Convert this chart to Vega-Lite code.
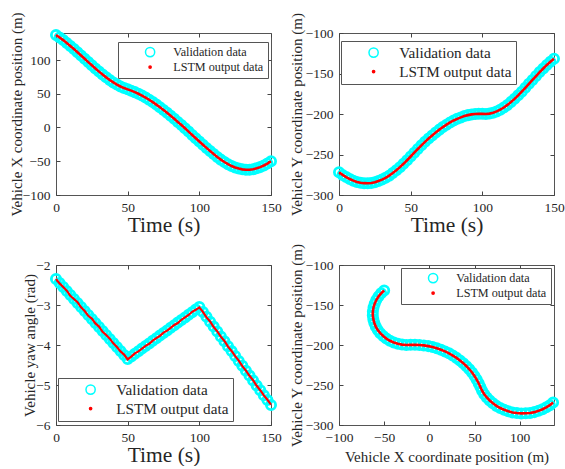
{
  "$schema": "https://vega.github.io/schema/vega-lite/v6.json",
  "padding": {"left": 8, "top": 11, "right": 0, "bottom": 0},
  "bounds": "flush",
  "columns": 2,
  "spacing": {"row": 70, "column": 68},
  "background": "white",
  "config": {
    "font": "Liberation Serif",
    "view": {"stroke": "#555555", "strokeWidth": 1},
    "axis": {
      "grid": false,
      "domain": false,
      "labelFont": "Liberation Serif",
      "titleFont": "Liberation Serif",
      "labelFontSize": 13.5,
      "labelColor": "#262626",
      "titleColor": "#262626",
      "titleFontWeight": "normal",
      "tickColor": "#444444",
      "tickSize": 4,
      "offset": -4,
      "labelPadding": 5,
      "labelOverlap": false,
      "labelFlush": false
    },
    "axisY": {"labelPadding": 6},
    "legend": {
      "orient": "none",
      "direction": "vertical",
      "strokeColor": "#555555",
      "fillColor": "white",
      "labelFont": "Liberation Serif",
      "labelColor": "#262626",
      "symbolType": "circle",
      "symbolStrokeWidth": 1.5,
      "labelLimit": 0,
      "cornerRadius": 0,
      "title": null
    }
  },
  "datasets": {
    "traj": [
      {"t": 0, "x": 137.0, "y": -272.0, "yaw": -2.35, "yawp": -2.35},
      {"t": 2.5, "x": 133.4, "y": -275.2, "yaw": -2.45, "yawp": -2.46},
      {"t": 5, "x": 129.5, "y": -277.9, "yaw": -2.55, "yawp": -2.55},
      {"t": 7.5, "x": 125.3, "y": -280.3, "yaw": -2.65, "yawp": -2.64},
      {"t": 10, "x": 120.9, "y": -282.3, "yaw": -2.75, "yawp": -2.77},
      {"t": 12.5, "x": 116.3, "y": -283.9, "yaw": -2.85, "yawp": -2.85},
      {"t": 15, "x": 111.5, "y": -284.9, "yaw": -2.95, "yawp": -2.93},
      {"t": 17.5, "x": 106.7, "y": -285.4, "yaw": -3.05, "yawp": -3.06},
      {"t": 20, "x": 101.8, "y": -285.5, "yaw": -3.15, "yawp": -3.15},
      {"t": 22.5, "x": 96.9, "y": -285.1, "yaw": -3.25, "yawp": -3.27},
      {"t": 25, "x": 92.1, "y": -284.3, "yaw": -3.35, "yawp": -3.34},
      {"t": 27.5, "x": 87.4, "y": -282.8, "yaw": -3.45, "yawp": -3.46},
      {"t": 30, "x": 82.8, "y": -281.0, "yaw": -3.55, "yawp": -3.54},
      {"t": 32.5, "x": 78.4, "y": -278.8, "yaw": -3.65, "yawp": -3.67},
      {"t": 35, "x": 74.3, "y": -276.1, "yaw": -3.75, "yawp": -3.75},
      {"t": 37.5, "x": 70.4, "y": -272.9, "yaw": -3.85, "yawp": -3.84},
      {"t": 40, "x": 66.8, "y": -269.4, "yaw": -3.95, "yawp": -3.96},
      {"t": 42.5, "x": 63.6, "y": -265.6, "yaw": -4.05, "yawp": -4.05},
      {"t": 45, "x": 60.8, "y": -261.5, "yaw": -4.15, "yawp": -4.16},
      {"t": 47.5, "x": 58.4, "y": -257.1, "yaw": -4.25, "yawp": -4.24},
      {"t": 50, "x": 56.5, "y": -252.5, "yaw": -4.35, "yawp": -4.36},
      {"t": 52.5, "x": 54.6, "y": -247.8, "yaw": -4.285, "yawp": -4.29},
      {"t": 55, "x": 52.4, "y": -243.2, "yaw": -4.22, "yawp": -4.21},
      {"t": 57.5, "x": 50.0, "y": -238.7, "yaw": -4.155, "yawp": -4.16},
      {"t": 60, "x": 47.3, "y": -234.4, "yaw": -4.09, "yawp": -4.09},
      {"t": 62.5, "x": 44.3, "y": -230.3, "yaw": -4.025, "yawp": -4.02},
      {"t": 65, "x": 41.1, "y": -226.5, "yaw": -3.96, "yawp": -3.97},
      {"t": 67.5, "x": 37.6, "y": -222.7, "yaw": -3.895, "yawp": -3.89},
      {"t": 70, "x": 33.9, "y": -219.3, "yaw": -3.83, "yawp": -3.83},
      {"t": 72.5, "x": 30.1, "y": -216.1, "yaw": -3.765, "yawp": -3.77},
      {"t": 75, "x": 26.0, "y": -213.2, "yaw": -3.70, "yawp": -3.69},
      {"t": 77.5, "x": 21.8, "y": -210.4, "yaw": -3.635, "yawp": -3.64},
      {"t": 80, "x": 17.4, "y": -208.0, "yaw": -3.57, "yawp": -3.57},
      {"t": 82.5, "x": 12.9, "y": -206.0, "yaw": -3.505, "yawp": -3.50},
      {"t": 85, "x": 8.3, "y": -204.2, "yaw": -3.44, "yawp": -3.45},
      {"t": 87.5, "x": 3.6, "y": -202.6, "yaw": -3.375, "yawp": -3.37},
      {"t": 90, "x": -1.2, "y": -201.4, "yaw": -3.31, "yawp": -3.31},
      {"t": 92.5, "x": -6.1, "y": -200.5, "yaw": -3.245, "yawp": -3.25},
      {"t": 95, "x": -11.0, "y": -200.0, "yaw": -3.18, "yawp": -3.17},
      {"t": 97.5, "x": -15.9, "y": -199.7, "yaw": -3.115, "yawp": -3.12},
      {"t": 100, "x": -20.7, "y": -199.8, "yaw": -3.05, "yawp": -3.06},
      {"t": 102.5, "x": -25.5, "y": -200.0, "yaw": -3.1725, "yawp": -3.17},
      {"t": 105, "x": -30.2, "y": -199.5, "yaw": -3.295, "yawp": -3.31},
      {"t": 107.5, "x": -34.8, "y": -198.5, "yaw": -3.4175, "yawp": -3.41},
      {"t": 110, "x": -39.3, "y": -196.8, "yaw": -3.54, "yawp": -3.55},
      {"t": 112.5, "x": -43.6, "y": -194.7, "yaw": -3.6625, "yawp": -3.66},
      {"t": 115, "x": -47.6, "y": -192.0, "yaw": -3.785, "yawp": -3.79},
      {"t": 117.5, "x": -51.1, "y": -188.8, "yaw": -3.9075, "yawp": -3.90},
      {"t": 120, "x": -54.3, "y": -185.2, "yaw": -4.03, "yawp": -4.04},
      {"t": 122.5, "x": -57.1, "y": -181.3, "yaw": -4.1525, "yawp": -4.15},
      {"t": 125, "x": -59.3, "y": -177.0, "yaw": -4.275, "yawp": -4.28},
      {"t": 127.5, "x": -60.9, "y": -172.4, "yaw": -4.3975, "yawp": -4.39},
      {"t": 130, "x": -62.0, "y": -167.7, "yaw": -4.52, "yawp": -4.53},
      {"t": 132.5, "x": -62.6, "y": -162.8, "yaw": -4.6425, "yawp": -4.64},
      {"t": 135, "x": -62.5, "y": -158.0, "yaw": -4.765, "yawp": -4.77},
      {"t": 137.5, "x": -61.8, "y": -153.1, "yaw": -4.8875, "yawp": -4.88},
      {"t": 140, "x": -60.5, "y": -148.3, "yaw": -5.01, "yawp": -5.02},
      {"t": 142.5, "x": -58.7, "y": -143.8, "yaw": -5.1325, "yawp": -5.13},
      {"t": 145, "x": -56.3, "y": -139.4, "yaw": -5.255, "yawp": -5.26},
      {"t": 147.5, "x": -53.4, "y": -135.4, "yaw": -5.3775, "yawp": -5.37},
      {"t": 150, "x": -50.0, "y": -131.8, "yaw": -5.5, "yawp": -5.49}
    ]
  },
  "resolve": {
    "scale": {"x": "independent", "y": "independent", "stroke": "independent", "fill": "independent", "size": "independent"},
    "axis": {"x": "independent", "y": "independent"},
    "legend": {"stroke": "independent", "fill": "independent", "size": "independent"}
  },
  "concat": [
    {
      "width": 215, "height": 162,
      "data": {"name": "traj"},
      "resolve": {"axis": {"x": "independent", "y": "independent"}},
      "layer": [
        {
          "mark": {"type": "point", "strokeWidth": 2.8, "opacity": 1},
          "encoding": {
            "x": {"field": "t", "type": "quantitative", "scale": {"domain": [0, 150], "nice": false, "zero": false},
                  "axis": {"values": [0, 50, 100, 150], "title": "Time (s)", "titleFontSize": 21.5, "titleY": 34, "titleBaseline": "middle"}},
            "y": {"field": "x", "type": "quantitative", "scale": {"domain": [-100, 140], "nice": false, "zero": false},
                  "axis": {"values": [-100, -50, 0, 50, 100], "title": "Vehicle X coordinate position (m)", "titleFontSize": 15, "titleX": -44, "titleBaseline": "middle"}},
            "stroke": {"datum": "Validation data", "scale": {"domain": ["Validation data", "LSTM output data"], "range": ["#00ffff", "#ff0000"]},
                       "legend": {"legendX": 62, "legendY": 9, "labelFontSize": 12.2, "padding": 4, "rowPadding": 1, "symbolOffset": 22, "labelOffset": 17}},
            "fill": {"datum": "Validation data", "scale": {"domain": ["Validation data", "LSTM output data"], "range": ["transparent", "#ff0000"]},
                     "legend": {"legendX": 62, "legendY": 9, "labelFontSize": 12.2, "padding": 4, "rowPadding": 1, "symbolOffset": 22, "labelOffset": 17}},
            "size": {"datum": "Validation data", "scale": {"domain": ["Validation data", "LSTM output data"], "range": [85, 5]},
                     "legend": {"legendX": 62, "legendY": 9, "labelFontSize": 12.2, "padding": 4, "rowPadding": 1, "symbolOffset": 22, "labelOffset": 17}}
          }
        },
        {
          "mark": {"type": "line", "color": "#ff0000", "strokeWidth": 2.6},
          "encoding": {
            "x": {"field": "t", "type": "quantitative", "scale": {"domain": [0, 150], "nice": false, "zero": false},
                  "axis": {"orient": "top", "labels": false, "title": null, "values": [0, 50, 100, 150]}},
            "y": {"field": "x", "type": "quantitative", "scale": {"domain": [-100, 140], "nice": false, "zero": false},
                  "axis": {"orient": "right", "labels": false, "title": null, "values": [-100, -50, 0, 50, 100]}},
            "order": {"field": "t"}
          }
        }
      ]
    },
    {
      "width": 215, "height": 162,
      "data": {"name": "traj"},
      "resolve": {"axis": {"x": "independent", "y": "independent"}},
      "layer": [
        {
          "mark": {"type": "point", "strokeWidth": 2.8, "opacity": 1},
          "encoding": {
            "x": {"field": "t", "type": "quantitative", "scale": {"domain": [0, 150], "nice": false, "zero": false},
                  "axis": {"values": [0, 50, 100, 150], "title": "Time (s)", "titleFontSize": 21.5, "titleY": 34, "titleBaseline": "middle"}},
            "y": {"field": "y", "type": "quantitative", "scale": {"domain": [-300, -100], "nice": false, "zero": false},
                  "axis": {"values": [-300, -250, -200, -150, -100], "title": "Vehicle Y coordinate position (m)", "titleFontSize": 15, "titleX": -47, "titleBaseline": "middle"}},
            "stroke": {"datum": "Validation data", "scale": {"domain": ["Validation data", "LSTM output data"], "range": ["#00ffff", "#ff0000"]},
                       "legend": {"legendX": 2, "legendY": 8, "labelFontSize": 15.2, "padding": 4, "rowPadding": 3, "symbolOffset": 21, "labelOffset": 18}},
            "fill": {"datum": "Validation data", "scale": {"domain": ["Validation data", "LSTM output data"], "range": ["transparent", "#ff0000"]},
                     "legend": {"legendX": 2, "legendY": 8, "labelFontSize": 15.2, "padding": 4, "rowPadding": 3, "symbolOffset": 21, "labelOffset": 18}},
            "size": {"datum": "Validation data", "scale": {"domain": ["Validation data", "LSTM output data"], "range": [85, 5]},
                     "legend": {"legendX": 2, "legendY": 8, "labelFontSize": 15.2, "padding": 4, "rowPadding": 3, "symbolOffset": 21, "labelOffset": 18}}
          }
        },
        {
          "mark": {"type": "line", "color": "#ff0000", "strokeWidth": 2.6},
          "encoding": {
            "x": {"field": "t", "type": "quantitative", "scale": {"domain": [0, 150], "nice": false, "zero": false},
                  "axis": {"orient": "top", "labels": false, "title": null, "values": [0, 50, 100, 150]}},
            "y": {"field": "y", "type": "quantitative", "scale": {"domain": [-300, -100], "nice": false, "zero": false},
                  "axis": {"orient": "right", "labels": false, "title": null, "values": [-300, -250, -200, -150, -100]}},
            "order": {"field": "t"}
          }
        }
      ]
    },
    {
      "width": 215, "height": 160,
      "data": {"name": "traj"},
      "resolve": {"axis": {"x": "independent", "y": "independent"}},
      "layer": [
        {
          "mark": {"type": "point", "strokeWidth": 2.8, "opacity": 1},
          "encoding": {
            "x": {"field": "t", "type": "quantitative", "scale": {"domain": [0, 150], "nice": false, "zero": false},
                  "axis": {"values": [0, 50, 100, 150], "title": "Time (s)", "titleFontSize": 21.5, "titleY": 34, "titleBaseline": "middle"}},
            "y": {"field": "yaw", "type": "quantitative", "scale": {"domain": [-6, -2], "nice": false, "zero": false},
                  "axis": {"values": [-6, -5, -4, -3, -2], "title": "Vehicle yaw angle (rad)", "titleFontSize": 15, "titleX": -31, "titleBaseline": "middle"}},
            "stroke": {"datum": "Validation data", "scale": {"domain": ["Validation data", "LSTM output data"], "range": ["#00ffff", "#ff0000"]},
                       "legend": {"legendX": 2, "legendY": 113, "labelFontSize": 15.2, "padding": 4, "rowPadding": 3, "symbolOffset": 21, "labelOffset": 18}},
            "fill": {"datum": "Validation data", "scale": {"domain": ["Validation data", "LSTM output data"], "range": ["transparent", "#ff0000"]},
                     "legend": {"legendX": 2, "legendY": 113, "labelFontSize": 15.2, "padding": 4, "rowPadding": 3, "symbolOffset": 21, "labelOffset": 18}},
            "size": {"datum": "Validation data", "scale": {"domain": ["Validation data", "LSTM output data"], "range": [85, 5]},
                     "legend": {"legendX": 2, "legendY": 113, "labelFontSize": 15.2, "padding": 4, "rowPadding": 3, "symbolOffset": 21, "labelOffset": 18}}
          }
        },
        {
          "mark": {"type": "line", "color": "#ff0000", "strokeWidth": 2.2},
          "encoding": {
            "x": {"field": "t", "type": "quantitative", "scale": {"domain": [0, 150], "nice": false, "zero": false},
                  "axis": {"orient": "top", "labels": false, "title": null, "values": [0, 50, 100, 150]}},
            "y": {"field": "yawp", "type": "quantitative", "scale": {"domain": [-6, -2], "nice": false, "zero": false},
                  "axis": {"orient": "right", "labels": false, "title": null, "values": [-6, -5, -4, -3, -2]}},
            "order": {"field": "t"}
          }
        }
      ]
    },
    {
      "width": 215, "height": 160,
      "data": {"name": "traj"},
      "resolve": {"axis": {"x": "independent", "y": "independent"}},
      "layer": [
        {
          "mark": {"type": "point", "strokeWidth": 2.8, "opacity": 1},
          "encoding": {
            "x": {"field": "x", "type": "quantitative", "scale": {"domain": [-100, 138], "nice": false, "zero": false},
                  "axis": {"values": [-100, -50, 0, 50, 100], "title": "Vehicle X coordinate position (m)", "titleFontSize": 15, "titleY": 35, "titleBaseline": "middle"}},
            "y": {"field": "y", "type": "quantitative", "scale": {"domain": [-300, -100], "nice": false, "zero": false},
                  "axis": {"values": [-300, -250, -200, -150, -100], "title": "Vehicle Y coordinate position (m)", "titleFontSize": 15, "titleX": -47, "titleBaseline": "middle"}},
            "stroke": {"datum": "Validation data", "scale": {"domain": ["Validation data", "LSTM output data"], "range": ["#00ffff", "#ff0000"]},
                       "legend": {"legendX": 62, "legendY": 3, "labelFontSize": 12.2, "padding": 4, "rowPadding": 1, "symbolOffset": 22, "labelOffset": 17}},
            "fill": {"datum": "Validation data", "scale": {"domain": ["Validation data", "LSTM output data"], "range": ["transparent", "#ff0000"]},
                     "legend": {"legendX": 62, "legendY": 3, "labelFontSize": 12.2, "padding": 4, "rowPadding": 1, "symbolOffset": 22, "labelOffset": 17}},
            "size": {"datum": "Validation data", "scale": {"domain": ["Validation data", "LSTM output data"], "range": [85, 5]},
                     "legend": {"legendX": 62, "legendY": 3, "labelFontSize": 12.2, "padding": 4, "rowPadding": 1, "symbolOffset": 22, "labelOffset": 17}}
          }
        },
        {
          "mark": {"type": "line", "color": "#ff0000", "strokeWidth": 2.6},
          "encoding": {
            "x": {"field": "x", "type": "quantitative", "scale": {"domain": [-100, 138], "nice": false, "zero": false},
                  "axis": {"orient": "top", "labels": false, "title": null, "values": [-100, -50, 0, 50, 100]}},
            "y": {"field": "y", "type": "quantitative", "scale": {"domain": [-300, -100], "nice": false, "zero": false},
                  "axis": {"orient": "right", "labels": false, "title": null, "values": [-300, -250, -200, -150, -100]}},
            "order": {"field": "t"}
          }
        }
      ]
    }
  ]
}
